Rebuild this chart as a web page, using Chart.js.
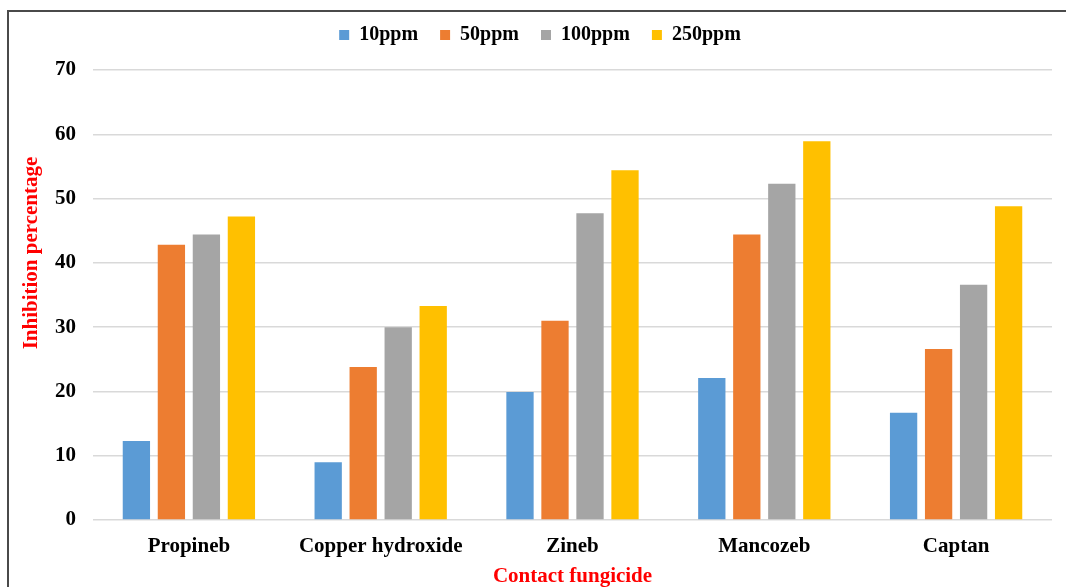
<!DOCTYPE html>
<html>
<head>
<meta charset="utf-8">
<script src="https://cdn.jsdelivr.net/npm/chart.js@4.4.1/dist/chart.umd.min.js"></script>
<style>
  html, body { margin: 0; padding: 0; background: #ffffff; }
  #wrap { position: relative; width: 1066px; height: 587px; overflow: hidden; }
  #frame { position: absolute; left: 7px; top: 10px; width: 1100px; height: 620px;
           border-left: 2px solid #4a4a4a; border-top: 2px solid #4a4a4a; pointer-events: none; }
  canvas { position: absolute; left: 0; top: 0; }
</style>
</head>
<body>
<div id="wrap">
  <canvas id="chart" width="1066" height="587"></canvas>
  <div id="frame"></div>
</div>
<script>
// Fungicides tested and mean inhibition (%) at each concentration
const categories = ["Propineb", "Copper hydroxide", "Zineb", "Mancozeb", "Captan"];
const seriesNames = ["10ppm", "50ppm", "100ppm", "250ppm"];
const ppm10  = [12.3, 9.0, 19.9, 22.1, 16.7];
const ppm50  = [42.8, 23.8, 31.0, 44.4, 26.6];
const ppm100 = [44.4, 30.0, 47.7, 52.3, 36.6];
const ppm250 = [47.2, 33.3, 54.4, 58.9, 48.8];
const yTicks = [0, 10, 20, 30, 40, 50, 60, 70];

const colors = ["#5B9BD5", "#ED7D31", "#A5A5A5", "#FFC000"];
const serif = "'Liberation Serif', 'Times New Roman', serif";

const seriesValues = [ppm10, ppm50, ppm100, ppm250];
const datasets = seriesNames.map((name, i) => ({
  label: name,
  data: seriesValues[i],
  backgroundColor: colors[i],
  borderWidth: 0,
  categoryPercentage: 0.73,
  barPercentage: 0.78
}));

// Vertical y-axis title drawn beside the axis
const yTitlePlugin = {
  id: "yTitle",
  afterDraw(chart) {
    const ctx = chart.ctx;
    ctx.save();
    ctx.translate(32, 253);
    ctx.rotate(-Math.PI / 2);
    ctx.font = "bold 21px " + serif;
    ctx.fillStyle = "#FF0000";
    ctx.textAlign = "center";
    ctx.textBaseline = "middle";
    ctx.fillText("Inhibition percentage", 0, 0);
    ctx.restore();
  }
};

// Leave a fixed band for the legend above the plot area
const LEGEND_BAND = 67;
const legendBand = {
  id: "legendBand",
  beforeLayout(chart) {
    const lg = chart.legend;
    if (lg && !lg._bandSet) {
      const fit = lg.fit.bind(lg);
      lg.fit = function () { fit(); this.height = LEGEND_BAND; };
      lg._bandSet = true;
    }
  }
};

new Chart(document.getElementById("chart"), {
  type: "bar",
  data: { labels: categories, datasets },
  options: {
    responsive: false,
    animation: false,
    layout: { padding: { top: 3, left: 28, right: 14, bottom: 0 } },
    plugins: {
      legend: {
        position: "top",
        labels: {
          boxWidth: 10,
          boxHeight: 10,
          padding: 22,
          color: "#000000",
          font: { family: serif, size: 20, weight: "bold" }
        }
      },
      tooltip: { enabled: false }
    },
    scales: {
      x: {
        afterFit(scale) { scale.height = 67; },
        grid: { display: false, drawTicks: false },
        border: { display: false },
        ticks: {
          color: "#000000",
          padding: 14,
          maxRotation: 0,
          autoSkip: false,
          font: { family: serif, size: 21, weight: "bold" }
        },
        title: {
          display: true,
          text: "Contact fungicide",
          color: "#FF0000",
          padding: { top: 0, bottom: 0 },
          font: { family: serif, size: 21, weight: "bold", lineHeight: 1.0 }
        }
      },
      y: {
        min: 0,
        max: 70,
        afterBuildTicks(scale) { scale.ticks = yTicks.map(v => ({ value: v })); },
        afterFit(scale) { scale.width = 65; },
        grid: { color: "#d9d9d9", lineWidth: 1.5, drawTicks: false },
        border: { display: false },
        ticks: {
          color: "#000000",
          padding: 17,
          font: { family: serif, size: 21, weight: "bold" }
        }
      }
    }
  },
  plugins: [yTitlePlugin, legendBand]
});
</script>
</body>
</html>
